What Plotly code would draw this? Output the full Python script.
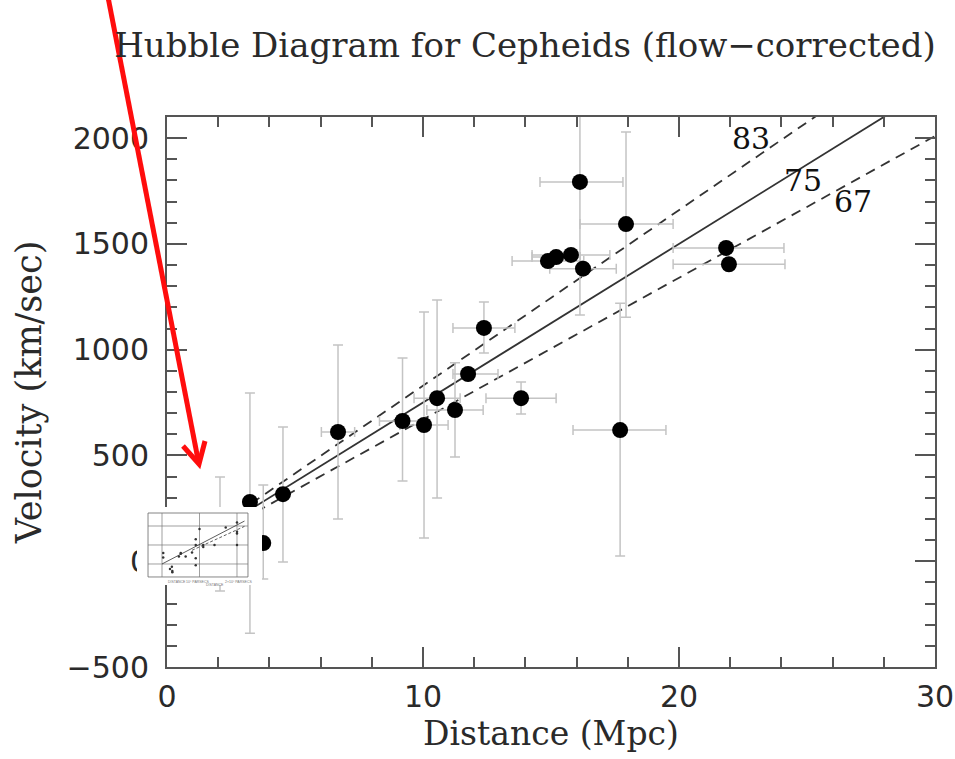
import plotly.graph_objects as go

# ---------------- data ----------------
dist = [2.07, 3.24, 3.76, 4.53, 6.68, 9.20, 10.04, 10.55, 11.25, 11.76, 12.38, 13.83,
        14.88, 15.20, 15.78, 16.25, 16.13, 17.93, 17.70, 21.84, 21.95]
vel = [126, 280, 86, 317, 611, 663, 644, 771, 715, 885, 1103, 771,
       1419, 1438, 1448, 1383, 1793, 1594, 620, 1481, 1404]
dist_err_minus = [0, 0, 0, 0, 0.65, 0.90, 0.94, 0.90, 1.10, 0.59, 1.21, 1.37,
                  1.40, 0.94, 1.52, 1.30, 1.56, 1.80, 1.84, 2.07, 2.18]
dist_err_plus = [0, 0, 0, 0, 0.65, 0.90, 0.94, 0.90, 1.10, 1.17, 1.21, 1.37,
                 1.40, 0.94, 1.52, 1.30, 1.68, 1.84, 1.79, 2.26, 2.19]
vel_err_plus = [272, 515, 274, 318, 411, 298, 534, 464, 223, 0, 122, 76,
                0, 0, 0, 0, 629, 435, 600, 0, 0]
vel_err_minus = [267, 620, 170, 321, 411, 284, 534, 472, 222, 0, 119, 75,
                 0, 0, 0, 0, 629, 441, 595, 0, 0]

hubble_constants = [83, 75, 67]
hubble_dashes = ["10px,7px", "solid", "10px,7px"]
line_dist = [0, 30]
label_pos = [(22.8, 2000), (24.85, 1800), (26.8, 1700)]

x_ticks = [0, 10, 20, 30]
y_ticks = [-500, 0, 500, 1000, 1500, 2000]

# inset: thumbnail of Hubble's 1929 diagram
inset_r = [0.032, 0.034, 0.214, 0.263, 0.275, 0.275, 0.45, 0.5, 0.5, 0.63, 0.8, 0.9,
           0.9, 0.9, 0.9, 1.0, 1.1, 1.1, 1.4, 1.7, 2.0, 2.0, 2.0, 2.0]
inset_v = [170, 290, -130, -70, -185, -220, 200, 290, 270, 200, 300, -30,
           650, 150, 500, 920, 450, 500, 500, 960, 500, 850, 800, 1090]
inset_fit_r = [0.0, 2.2]
inset_fit_v = [0, 1130]
inset_fit2_r = [0.8, 2.2]
inset_fit2_v = [360, 990]
inset_grid_x = [0, 1, 2]
inset_grid_y = [0, 500, 1000]

# ---------------- layout helpers ----------------
W, H = 955, 759
ML, MR, MT, MB = 100, 20, 117, 92
PW, PH = W - ML - MR, H - MT - MB


def px(xp):
    return (xp - ML) / PW


def py(yp):
    return (H - MB - yp) / PH


AX = "#555555"
TXT = "#2a2a2a"
SERIF = "DejaVu Serif"
SANS = "DejaVu Sans"

fig = go.Figure()

# Hubble-law lines
for h, d in zip(hubble_constants, hubble_dashes):
    fig.add_trace(go.Scatter(
        x=line_dist, y=[h * v for v in line_dist], mode="lines",
        line=dict(color="#333333", width=1.8, dash=d),
        hoverinfo="skip", showlegend=False))

# Cepheid galaxies
fig.add_trace(go.Scatter(
    x=dist, y=vel, mode="markers",
    marker=dict(color="black", size=16),
    error_x=dict(type="data", symmetric=False, array=dist_err_plus,
                 arrayminus=dist_err_minus, color="#c4c4c4", thickness=1.5, width=5),
    error_y=dict(type="data", symmetric=False, array=vel_err_plus,
                 arrayminus=vel_err_minus, color="#c4c4c4", thickness=1.5, width=5),
    showlegend=False))

for h, (lx, ly) in zip(hubble_constants, label_pos):
    fig.add_annotation(x=lx, y=ly, text=str(h), showarrow=False,
                       font=dict(family=SERIF, size=30, color="#111111"),
                       xanchor="center", yanchor="middle")

# ---------------- inset ----------------
ix0, ix1 = -0.667, 2.667   # inset x range
iy0, iy1 = -553, 1500      # inset y range
fx0, fx1, fy0, fy1 = -0.373, 2.293, -342, 1342  # frame of the thumbnail

fig.add_trace(go.Scatter(x=inset_r, y=inset_v, mode="markers",
                         marker=dict(color="#333", size=2.5),
                         xaxis="x2", yaxis="y2", showlegend=False, hoverinfo="skip"))
fig.add_trace(go.Scatter(x=inset_fit_r, y=inset_fit_v, mode="lines",
                         line=dict(color="#333", width=0.8),
                         xaxis="x2", yaxis="y2", showlegend=False, hoverinfo="skip"))
fig.add_trace(go.Scatter(x=inset_fit2_r, y=inset_fit2_v, mode="lines",
                         line=dict(color="#333", width=0.8, dash="3px,2px"),
                         xaxis="x2", yaxis="y2", showlegend=False, hoverinfo="skip"))

# white background of the inset (drawn in the inset subplot, so above main traces)
fig.add_shape(type="rect", xref="x2 domain", yref="y2 domain", x0=0, x1=1, y0=0, y1=1,
              fillcolor="white", line=dict(width=0), layer="below")
fig.add_shape(type="rect", xref="x2", yref="y2", x0=fx0, x1=fx1, y0=fy0, y1=fy1,
              fillcolor="rgba(0,0,0,0)", line=dict(width=0.8, color="#666"), layer="below")
for gx in inset_grid_x:
    fig.add_shape(type="line", xref="x2", yref="y2", x0=gx, x1=gx, y0=fy0, y1=fy1,
                  line=dict(width=0.7, color="#777"), layer="below")
for gy in inset_grid_y:
    fig.add_shape(type="line", xref="x2", yref="y2", x0=fx0, x1=fx1, y0=gy, y1=gy,
                  line=dict(width=0.7, color="#777"), layer="below")
for tx, ty, tt in [(0.4, -480, "DISTANCE"), (0.95, -470, "10⁶ PARSECS"),
                   (1.4, -540, "DISTANCE"), (2.05, -470, "2×10⁶ PARSECS")]:
    fig.add_annotation(x=tx, y=ty, xref="x2", yref="y2", text=tt, showarrow=False,
                       font=dict(family="Liberation Sans", size=3.5, color="#777"))

# ---------------- red arrow ----------------
arrow = dict(color="#ff0d0d", width=5)
fig.add_shape(type="line", xref="paper", yref="paper",
              x0=px(107.6), y0=py(-5), x1=px(198.5), y1=py(462), line=arrow, layer="above")
fig.add_shape(type="path", xref="paper", yref="paper",
              path=f"M {px(183)},{py(446)} L {px(199)},{py(464)} L {px(205)},{py(441)}",
              line=arrow, layer="above")

axis_common = dict(
    showline=True, linecolor=AX, linewidth=2, mirror="ticks",
    ticks="inside", ticklen=20, tickwidth=2, tickcolor=AX,
    showgrid=False, zeroline=False, automargin=False,
    tickfont=dict(family=SANS, size=30, color=TXT),
)

fig.update_layout(
    width=W, height=H,
    margin=dict(l=ML, r=MR, t=MT, b=MB, autoexpand=False),
    paper_bgcolor="white", plot_bgcolor="white",
    title=dict(text="Hubble Diagram for Cepheids (flow−corrected)",
               x=525 / W, xref="container", xanchor="center",
               y=1 - 45 / H, yref="container", yanchor="middle",
               font=dict(family=SERIF, size=34, color=TXT)),
    xaxis=dict(domain=[px(167), 1], range=[0, 30], tickvals=x_ticks,
               minor=dict(dtick=2, tick0=0, ticks="inside", ticklen=10, tickwidth=1.5, tickcolor=AX),
               title=dict(text="Distance (Mpc)", standoff=8,
                          font=dict(family=SERIF, size=33, color=TXT)),
               ticklabelstandoff=2,
               **axis_common),
    yaxis=dict(domain=[0, 1], range=[-500, 2100], tickvals=y_ticks,
               minor=dict(dtick=100, tick0=0, ticks="inside", ticklen=10, tickwidth=1.5, tickcolor=AX),
               title=dict(text="Velocity (km/sec)", standoff=14,
                          font=dict(family=SERIF, size=35, color=TXT)),
               ticklabelstandoff=10,
               **axis_common),
    xaxis2=dict(domain=[px(137), px(262)], range=[ix0, ix1], anchor="y2",
                visible=False, fixedrange=True),
    yaxis2=dict(domain=[py(585), py(507)], range=[iy0, iy1], anchor="x2",
                visible=False, fixedrange=True),
)

fig.write_html("out.html")
